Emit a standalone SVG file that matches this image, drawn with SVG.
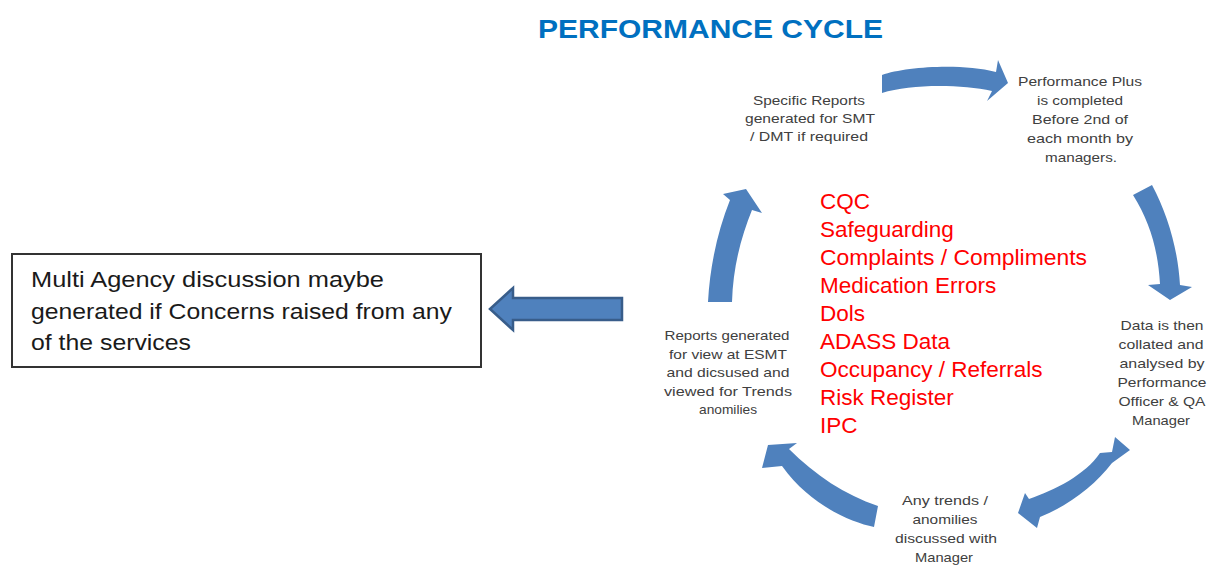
<svg xmlns="http://www.w3.org/2000/svg" width="1208" height="566" viewBox="0 0 1208 566">
<style>
.bg{fill:#ffffff}
.title{font-family:"Liberation Sans",Arial,sans-serif;font-weight:bold;font-size:25px;fill:#0070C0}
.small{font-family:"Liberation Sans",Arial,sans-serif;font-size:13px;fill:#404040;text-anchor:middle}
.red{font-family:"Liberation Sans",Arial,sans-serif;font-size:22.5px;fill:#FF0000}
.box{fill:#ffffff;stroke:#333333;stroke-width:2}
.boxtext{font-family:"Liberation Sans",Arial,sans-serif;font-size:22.5px;fill:#1a1a1a}
.arc{fill:#4F81BD;stroke:none}
.block{fill:#4F81BD;stroke:#385D8A;stroke-width:2.5;stroke-linejoin:miter}
</style>
<rect class="bg" x="0" y="0" width="1208" height="566"/>
<text class="title" x="538" y="38" textLength="345" lengthAdjust="spacingAndGlyphs">PERFORMANCE CYCLE</text>

<g id="connectors">
  <path class="arc" d="M882,75 C905,67 960,63 996,72 L998,60 L1008,83 L987,101 L992,91 C960,84 910,84 882,93 Z"/>
  <path class="arc" d="M1133,195 L1152,185 C1168,215 1178,250 1180,285 L1192,287 L1170,300 L1148,285 L1160,284 C1158,250 1150,222 1133,195 Z"/>
  <path class="arc" d="M1100,453 L1112,452 L1115,437 L1130,450 L1112,463 C1095,485 1070,505 1040,517 L1037,528 L1018,513 L1025,493 L1029,499 C1055,490 1085,475 1100,453 Z"/>
  <path class="arc" d="M878,506 L874,527 C850,522 810,505 782,466 L762,468 L768,445 L797,443 L789,449 C815,475 845,495 878,506 Z"/>
  <path class="arc" d="M708,302 C710,265 718,230 730,200 L723,194 L746,189 L762,213 L752,210 C742,235 733,265 732,302 Z"/>
  <path class="block" d="M490,309 L513,288 L513,298 L622,298 L622,320 L513,320 L513,330 Z"/>
</g>

<g id="node-specific-reports">
  <text class="small" x="809" y="105" textLength="112" lengthAdjust="spacingAndGlyphs">Specific Reports</text>
  <text class="small" x="810" y="123" textLength="130" lengthAdjust="spacingAndGlyphs">generated  for SMT</text>
  <text class="small" x="809" y="141" textLength="118" lengthAdjust="spacingAndGlyphs">/ DMT if required</text>
</g>

<g id="node-performance-plus">
  <text class="small" x="1080" y="86" textLength="124" lengthAdjust="spacingAndGlyphs">Performance Plus</text>
  <text class="small" x="1080" y="105" textLength="86" lengthAdjust="spacingAndGlyphs">is completed</text>
  <text class="small" x="1080" y="124" textLength="96" lengthAdjust="spacingAndGlyphs">Before 2nd of</text>
  <text class="small" x="1080" y="143" textLength="106" lengthAdjust="spacingAndGlyphs">each month by</text>
  <text class="small" x="1081" y="162" textLength="72" lengthAdjust="spacingAndGlyphs">managers.</text>
</g>

<g id="node-data-collated">
  <text class="small" x="1162" y="330" textLength="83" lengthAdjust="spacingAndGlyphs">Data is then</text>
  <text class="small" x="1161" y="349" textLength="85" lengthAdjust="spacingAndGlyphs">collated and</text>
  <text class="small" x="1162" y="368" textLength="85" lengthAdjust="spacingAndGlyphs">analysed  by</text>
  <text class="small" x="1162" y="387" textLength="89" lengthAdjust="spacingAndGlyphs">Performance</text>
  <text class="small" x="1162" y="406" textLength="87" lengthAdjust="spacingAndGlyphs">Officer &amp; QA</text>
  <text class="small" x="1161" y="425" textLength="58" lengthAdjust="spacingAndGlyphs">Manager</text>
</g>

<g id="node-any-trends">
  <text class="small" x="945" y="505" textLength="86" lengthAdjust="spacingAndGlyphs">Any trends /</text>
  <text class="small" x="945" y="524" textLength="65" lengthAdjust="spacingAndGlyphs">anomilies</text>
  <text class="small" x="946" y="543" textLength="102" lengthAdjust="spacingAndGlyphs">discussed with</text>
  <text class="small" x="944" y="562" textLength="58" lengthAdjust="spacingAndGlyphs">Manager</text>
</g>

<g id="node-reports-generated">
  <text class="small" x="727" y="340" textLength="125" lengthAdjust="spacingAndGlyphs">Reports  generated</text>
  <text class="small" x="728" y="358.5" textLength="118" lengthAdjust="spacingAndGlyphs">for view  at ESMT</text>
  <text class="small" x="728" y="377" textLength="123" lengthAdjust="spacingAndGlyphs">and dicsused and</text>
  <text class="small" x="728" y="395.5" textLength="128" lengthAdjust="spacingAndGlyphs">viewed  for Trends</text>
  <text class="small" x="728" y="414" textLength="58" lengthAdjust="spacingAndGlyphs">anomilies</text>
</g>

<g id="node-indicators">
  <text class="red" x="820" y="209">CQC</text>
  <text class="red" x="820" y="237">Safeguarding</text>
  <text class="red" x="820" y="265" textLength="267" lengthAdjust="spacingAndGlyphs">Complaints / Compliments</text>
  <text class="red" x="820" y="293">Medication Errors</text>
  <text class="red" x="820" y="321">Dols</text>
  <text class="red" x="820" y="349">ADASS Data</text>
  <text class="red" x="820" y="377">Occupancy / Referrals</text>
  <text class="red" x="820" y="405">Risk Register</text>
  <text class="red" x="820" y="433">IPC</text>
</g>

<g id="node-multi-agency">
  <rect class="box" x="12" y="254" width="469" height="113"/>
  <text class="boxtext" x="31" y="287" textLength="353" lengthAdjust="spacingAndGlyphs">Multi Agency discussion maybe</text>
  <text class="boxtext" x="31" y="319" textLength="421" lengthAdjust="spacingAndGlyphs">generated  if Concerns raised from any</text>
  <text class="boxtext" x="31" y="350" textLength="160" lengthAdjust="spacingAndGlyphs">of the services</text>
</g>
</svg>
